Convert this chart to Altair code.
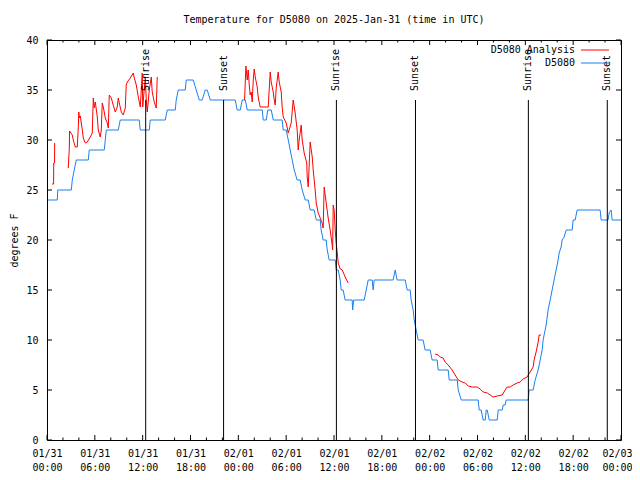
import altair as alt
import pandas as pd

T0_MS = 1738281600000  # 2025-01-31 00:00 UTC
H = 3600000

def ms(h):
    return int(T0_MS + h * H)

# Observed D5080 temperature (hours after 2025-01-31 00:00 UTC, degrees F)
obs_hours = [0.1, 1.29, 1.35, 3.05, 3.17, 3.42, 3.67, 5.18, 5.30, 7.18, 7.31, 7.44, 8.94, 9.19,
             11.57, 11.70, 12.83, 12.95, 14.83, 15.08, 16.09, 16.21, 16.46, 17.34, 17.47, 18.34,
             18.72, 19.10, 19.47, 19.85, 20.10, 20.48, 23.61, 23.86, 24.24, 24.49, 24.87, 25.12,
             27.00, 27.12, 27.50, 27.69, 28.13, 28.38, 29.50, 29.63, 30.01, 30.26, 30.51, 30.76,
             31.01, 31.38, 31.76, 32.01, 32.39, 32.77, 33.01, 33.52, 33.77, 34.27, 34.39, 34.64,
             35.02, 35.15, 35.40, 36.15, 36.28, 36.53, 36.78, 36.90, 37.15, 37.40, 38.28, 38.34,
             38.47, 39.79, 40.04, 40.29, 40.79, 40.91, 41.04, 43.42, 43.67, 43.92, 44.93, 45.18,
             45.55, 45.68, 45.93, 46.06, 46.31, 46.56, 47.18, 47.43, 48.06, 48.31, 48.94, 49.07,
             50.32, 50.45, 51.46, 51.58, 51.96, 54.09, 54.21, 54.46, 54.71, 54.97, 55.09, 55.22,
             55.47, 56.47, 56.60, 57.10, 57.22, 57.47, 57.60, 60.35, 60.48, 60.98, 61.23, 61.61,
             61.86, 62.11, 62.23, 62.61, 62.86, 63.24, 63.36, 63.61, 63.86, 64.11, 64.24, 64.49,
             64.62, 64.87, 65.12, 65.87, 66.00, 66.25, 66.50, 69.38, 69.51, 70.38, 70.51, 70.76,
             70.89, 72.0]
obs_temp = [24, 24, 25, 25, 26, 27, 28, 28, 29, 29, 30, 31, 31, 32,
            32, 31, 31, 32, 32, 33, 33, 34, 35, 35, 36, 36,
            35, 34, 34, 35, 35, 34, 34, 33, 33, 34, 34, 33,
            33, 32, 32, 33, 33, 32, 32, 31, 31, 30, 29, 28,
            27, 26, 26, 25, 24, 24, 23, 23, 22, 22, 21, 20,
            20, 19, 18, 18, 17, 17, 16, 15, 15, 14, 14, 13,
            14, 14, 15, 16, 16, 15, 16, 16, 17, 16, 16, 15,
            15, 14, 13, 12, 11, 10, 10, 9, 9, 8, 8, 7,
            7, 6, 6, 5, 4, 4, 3, 3, 2, 2, 3, 3,
            2, 2, 3, 3, 3.5, 3.5, 4, 4, 5, 5, 6, 7,
            8, 9, 10, 11.5, 13, 14.5, 15, 16, 17, 18, 18.7, 19.3,
            20, 20.3, 21, 21, 22, 22, 23, 23, 22, 22, 22.7, 23,
            22, 22]

# D5080 analysis, four separate runs
ana1_hours = [0.63, 0.83, 0.84, 0.95, 0.96]
ana1_temp = [25.6, 25.6, 27.7, 27.7, 29.7]

ana2_hours = [2.67, 2.80, 2.83, 3.17, 3.30, 3.55, 3.80, 3.92, 3.99, 4.05, 4.18, 4.43, 4.55, 4.80,
              5.05, 5.43, 5.68, 5.74, 5.81, 5.93, 6.06, 6.31, 6.43, 6.68, 6.81, 6.93, 7.06, 7.18,
              7.31, 7.56, 7.69, 7.81, 8.06, 8.31, 8.56, 8.81, 8.94, 9.07, 9.32, 9.57, 9.82, 9.94,
              10.07, 10.45, 10.82, 10.95, 11.20, 11.45, 11.70, 11.95, 12.01, 12.33, 12.45, 12.58,
              12.83, 13.08, 13.20, 13.45, 13.70, 13.83]
ana2_temp = [27.2, 29.2, 30.9, 30.5, 30.0, 29.3, 29.3, 31.2, 32.8, 32.2, 32.4, 31.0, 30.2, 29.7,
             29.8, 30.3, 30.7, 32.5, 34.2, 33.2, 33.8, 32.3, 31.0, 30.3, 31.0, 33.7, 33.3, 32.8,
             32.2, 31.7, 31.2, 34.5, 34.2, 33.5, 32.8, 33.3, 34.2, 33.7, 32.8, 32.5, 33.2, 35.5,
             35.8, 36.2, 36.7, 36.2, 35.5, 34.3, 33.3, 36.7, 33.3, 36.3, 34.0, 32.8,
             35.0, 36.3, 34.8, 33.8, 33.2, 36.3]

ana3_hours = [24.78, 24.95, 25.12, 25.24, 25.37, 25.49, 25.62, 25.74, 25.87, 25.99, 26.12, 26.37,
              26.49, 26.74, 27.75, 27.87, 28.00, 28.12, 28.38, 28.50, 28.63, 28.75, 29.00, 29.13,
              29.38, 29.50, 29.63, 30.01, 30.26, 30.63, 30.88, 31.13, 31.38, 31.51, 31.63, 31.89,
              32.01, 32.26, 32.58, 32.64, 32.77, 33.01, 33.27, 33.39, 33.64, 33.77, 34.02, 34.52,
              34.64, 34.77, 34.89, 35.27, 35.52, 35.77, 35.83, 35.90, 36.02, 36.15, 36.28, 36.40,
              36.53, 36.78, 37.03, 37.40, 37.78]
ana3_temp = [34.0, 37.4, 36.0, 37.0, 35.5, 34.5, 34.8, 33.8, 36.0, 37.1, 36.3, 35.3,
             34.3, 33.3, 33.3, 35.0, 36.8, 35.8, 34.8, 34.0, 33.5, 35.2, 36.8, 35.8,
             34.8, 33.3, 32.3, 31.7, 30.7, 31.7, 34.0, 32.7, 31.0, 29.0, 30.0, 31.5,
             30.0, 28.7, 27.7, 26.3, 25.3, 29.8, 28.3, 27.0, 25.0, 23.7, 22.7, 21.7,
             21.2, 25.3, 24.5, 22.2, 21.0, 19.5, 19.0, 23.5, 23.0, 21.0, 19.7, 18.8,
             17.7, 17.1, 17.0, 16.3, 15.7]

ana4_hours = [48.69, 49.07, 49.32, 49.69, 49.94, 50.32, 50.82, 51.20, 51.58, 52.08, 52.46, 52.83,
              53.34, 53.96, 54.34, 54.71, 55.22, 55.59, 55.97, 56.47, 57.10, 57.47, 57.72, 58.10,
              58.47, 58.97, 59.35, 59.72, 60.22, 60.60, 60.98, 61.10, 61.35, 61.61, 61.73, 61.98]
ana4_temp = [8.6, 8.5, 8.3, 8.2, 7.8, 7.5, 7.0, 6.5, 6.0, 5.8, 5.7, 5.4,
             5.3, 5.3, 5.1, 4.8, 4.7, 4.5, 4.3, 4.4, 4.5, 5.0, 5.3, 5.3,
             5.5, 5.7, 5.8, 6.1, 6.3, 6.8, 7.3, 8.0, 8.8, 9.8, 10.5, 10.5]

sun_hours = [12.38, 22.15, 36.30, 46.22, 60.38, 70.28]
sun_labels = ["Sunrise", "Sunset", "Sunrise", "Sunset", "Sunrise", "Sunset"]

series_names = ["D5080 Analysis", "D5080"]
series_colors = ["#ff0000", "#1a80f0"]

y_ticks = [0, 5, 10, 15, 20, 25, 30, 35, 40]
x_label_hours = list(range(0, 73, 6))
x_minor_hours = [h for h in range(0, 73, 2) if h % 6 != 0]

FONT = "DejaVu Sans Mono"

obs_df = pd.DataFrame({"t": [ms(h) for h in obs_hours], "v": obs_temp})
ana_rows = []
for seg, (hs, vs) in enumerate([(ana1_hours, ana1_temp), (ana2_hours, ana2_temp),
                                (ana3_hours, ana3_temp), (ana4_hours, ana4_temp)]):
    for h, v in zip(hs, vs):
        ana_rows.append({"t": ms(h), "v": v, "seg": seg})
ana_df = pd.DataFrame(ana_rows)
sun_df = pd.DataFrame({"t": [ms(h) for h in sun_hours], "label": sun_labels})
xmaj_df = pd.DataFrame({"t": [ms(h) for h in x_label_hours]})
xmin_df = pd.DataFrame({"t": [ms(h) for h in x_minor_hours]})
ytk_df = pd.DataFrame({"v": y_ticks})
one = pd.DataFrame({"a": [0]})

xscale = alt.Scale(type="utc", domain=[ms(0), ms(72)], nice=False)
yscale = alt.Scale(domain=[0, 40], nice=False, zero=True)

xaxis = alt.Axis(values=[ms(h) for h in x_label_hours],
                 labelExpr="[utcFormat(datum.value, '%m/%d'), utcFormat(datum.value, '%H:%M')]",
                 ticks=False, domain=False, grid=False, title=None,
                 labelFont=FONT, labelFontSize=10, labelColor="black",
                 labelPadding=8, labelLineHeight=14, labelFlush=False,
                 labelOverlap=False, labelAngle=0, labelAlign="center",
                 labelOffset={"condition": {"test": f"datum.value >= {ms(71)}", "value": -4},
                              "value": 0})
yaxis = alt.Axis(values=y_ticks, ticks=False, domain=False, grid=False,
                 title="degrees F", titleFont=FONT, titleFontSize=10, titleFontWeight="normal",
                 titleColor="black", titleX=-33, titleY=200, titleAngle=270,
                 titleAlign="center", titleBaseline="middle",
                 labelFont=FONT, labelFontSize=10, labelColor="black", labelPadding=9)

X = alt.X("t:T", scale=xscale, axis=xaxis)
Y = alt.Y("v:Q", scale=yscale, axis=yaxis)

obs_line = alt.Chart(obs_df).mark_line(color=series_colors[1], strokeWidth=1).encode(x=X, y=Y, order="t:Q")
ana_line = alt.Chart(ana_df).mark_line(color=series_colors[0], strokeWidth=1).encode(
    x=X, y=Y, detail="seg:N", order="t:Q")

sun_rule = alt.Chart(sun_df).mark_rule(color="black", strokeWidth=1).encode(
    x=X, y=alt.YDatum(0, scale=yscale, axis=yaxis), y2=alt.Y2Datum(34))
sun_text = alt.Chart(sun_df).mark_text(font=FONT, fontSize=10, angle=270, align="left",
                                       baseline="middle", color="black", dx=1).encode(
    x=X, y=alt.YDatum(34.8, scale=yscale, axis=yaxis), text="label:N")

def xticks(df, y0, y1):
    return alt.Chart(df).mark_rule(color="black", strokeWidth=1).encode(
        x=X, y=alt.value(y0), y2=alt.value(y1))

tick_layers = [xticks(xmaj_df, 400, 395), xticks(xmin_df, 400, 397.5),
               xticks(xmaj_df, 0, 5), xticks(xmin_df, 0, 2.5)]
tick_layers.append(alt.Chart(ytk_df).mark_rule(color="black", strokeWidth=1).encode(
    y=Y, x=alt.value(0), x2=alt.value(5)))
tick_layers.append(alt.Chart(ytk_df).mark_rule(color="black", strokeWidth=1).encode(
    y=Y, x=alt.value(574), x2=alt.value(569)))

legend_layers = []
for i, (name, col) in enumerate(zip(series_names, series_colors)):
    yy = 10 + 13 * i
    legend_layers.append(alt.Chart(one).mark_text(font=FONT, fontSize=10, align="right",
                                                  baseline="middle", color="black").encode(
        x=alt.value(528), y=alt.value(yy), text=alt.value(name)))
    legend_layers.append(alt.Chart(one).mark_rule(color=col, strokeWidth=1).encode(
        x=alt.value(534), x2=alt.value(562), y=alt.value(yy)))

chart = alt.layer(obs_line, ana_line, sun_rule, sun_text, *tick_layers, *legend_layers).properties(
    width=574, height=400,
    autosize=alt.AutoSizeParams(type="none"),
    padding={"left": 39, "top": 32, "right": 11, "bottom": 40},
    title=alt.TitleParams("Temperature for D5080 on 2025-Jan-31 (time in UTC)", font=FONT,
                          fontSize=10, fontWeight="normal", anchor="middle", offset=10,
                          color="black"),
    background="white",
).configure_view(stroke="black", strokeWidth=1)

chart.save("out.html", embed_options={"renderer": "svg", "actions": False})
